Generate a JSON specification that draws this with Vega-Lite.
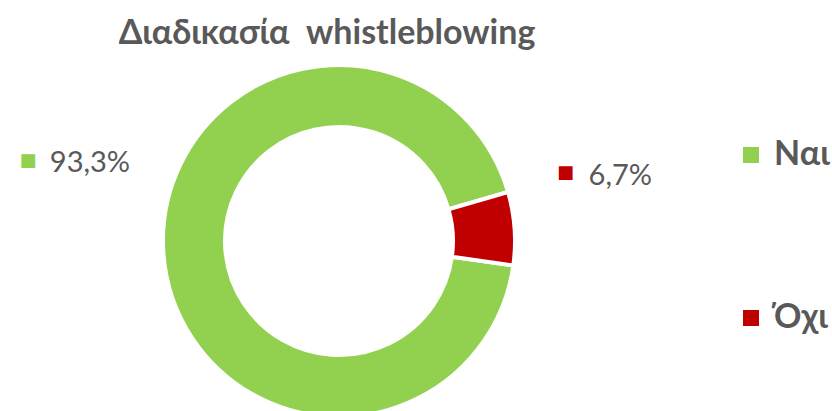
{
  "$schema": "https://vega.github.io/schema/vega-lite/v6.json",
  "width": 348,
  "height": 348,
  "autosize": "none",
  "padding": {"left": 165, "top": 67, "right": 319, "bottom": 0},
  "background": "white",
  "config": {"view": {"stroke": null}},
  "title": {
    "text": "Διαδικασία\u00a0 whistleblowing",
    "font": "Lato",
    "fontSize": 34,
    "fontWeight": "bold",
    "color": "#595959",
    "anchor": "middle",
    "frame": "group",
    "baseline": "alphabetic",
    "offset": -21,
    "dx": -12
  },
  "data": {
    "values": [
      {"cat": "Ναι", "value": 93.3, "label": "93,3%"},
      {"cat": "Όχι", "value": 6.7, "label": "6,7%"}
    ]
  },
  "encoding": {
    "theta": {"field": "value", "type": "quantitative", "stack": true, "scale": {"range": [1.71, 7.993]}},
    "order": {"field": "value", "sort": "descending"},
    "detail": {"field": "cat"},
    "color": {
      "field": "cat",
      "type": "nominal",
      "scale": {"domain": ["Ναι", "Όχι"], "range": ["#92D050", "#C00000"]},
      "legend": {
        "orient": "none",
        "legendX": 569,
        "legendY": 71,
        "title": null,
        "symbolType": "square",
        "symbolSize": 256,
        "symbolStrokeWidth": 0,
        "symbolOpacity": 1,
        "labelFont": "Lato",
        "labelFontSize": 34,
        "labelFontWeight": "bold",
        "labelColor": "#595959",
        "labelOffset": 6,
        "rowPadding": 129,
        "padding": 0
      }
    }
  },
  "layer": [
    {"mark": {"type": "arc", "outerRadius": 176, "innerRadius": 114, "stroke": "white", "strokeWidth": 4}},
    {
      "mark": {"type": "text", "radius": 223, "thetaOffset": 0.429, "align": "right", "baseline": "middle", "font": "Lato", "fontSize": 29, "color": "#595959"},
      "encoding": {
        "color": {"value": "#595959"},
        "text": {"condition": {"test": "datum.cat === 'Ναι'", "field": "label"}, "value": ""}
      }
    },
    {
      "mark": {"type": "text", "radius": 223, "thetaOffset": 0.429, "align": "center", "baseline": "middle", "font": "DejaVu Sans", "fontSize": 18, "dx": -102, "dy": -2},
      "encoding": {
        "text": {"condition": {"test": "datum.cat === 'Ναι'", "value": "■"}, "value": ""}
      }
    },
    {
      "mark": {"type": "text", "radius": 258, "thetaOffset": -0.185, "align": "left", "baseline": "middle", "font": "Lato", "fontSize": 29, "color": "#595959"},
      "encoding": {
        "color": {"value": "#595959"},
        "text": {"condition": {"test": "datum.cat === 'Όχι'", "field": "label"}, "value": ""}
      }
    },
    {
      "mark": {"type": "text", "radius": 258, "thetaOffset": -0.185, "align": "center", "baseline": "middle", "font": "DejaVu Sans", "fontSize": 18, "dx": -23, "dy": -3},
      "encoding": {
        "text": {"condition": {"test": "datum.cat === 'Όχι'", "value": "■"}, "value": ""}
      }
    }
  ]
}
